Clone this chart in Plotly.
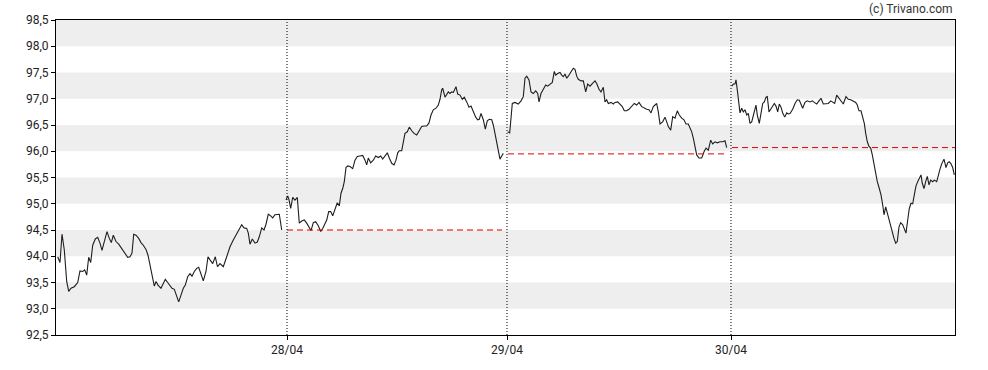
import plotly.graph_objects as go

# time axis (intraday sample time units)
t_day1 = [57.7, 60, 62, 64.3, 66.7, 68.7, 71, 74.3, 77.7, 80, 82.7, 84.7, 86.7, 88.7, 90.7, 92.7, 95.3, 97.7,
          100, 102, 104.3, 107, 109.3, 111.3, 113.3, 116, 118.7, 121, 123.3, 126, 127.7, 130, 132, 133.7, 136,
          138.7, 141, 143.3, 146, 148, 149.7, 151, 152.7, 154.3, 156, 158, 161, 163.3, 165.3, 167.7, 170, 172,
          174.3, 176.7, 178.7, 181, 183.3, 185.3, 187.7, 190, 192, 194.3, 196.7, 198.7, 201, 203.3, 206, 208,
          210, 212.7, 215.3, 217.5, 220, 223.3, 226.7, 230, 233.3, 236.7, 239.3, 241.7, 244, 246.7, 248.3, 250,
          252.3, 255, 257.3, 259.3, 261.7, 264, 266, 268.3, 270.7, 272.7, 275, 277.3, 279.3, 281.7]
v_day1 = [93.99, 93.88, 94.42, 94.12, 93.52, 93.33, 93.39, 93.42, 93.50, 93.72, 93.71, 93.74, 93.64, 93.98,
          93.88, 94.21, 94.33, 94.36, 94.25, 94.11, 94.28, 94.47, 94.34, 94.26, 94.40, 94.28, 94.23, 94.17,
          94.11, 94.02, 93.98, 93.99, 94.06, 94.42, 94.40, 94.34, 94.26, 94.21, 94.13, 94.02, 93.86, 93.67,
          93.52, 93.43, 93.52, 93.45, 93.39, 93.47, 93.56, 93.50, 93.45, 93.39, 93.37, 93.24, 93.13, 93.26,
          93.39, 93.45, 93.61, 93.67, 93.62, 93.71, 93.77, 93.79, 93.66, 93.53, 93.71, 93.99, 93.93, 93.86,
          93.99, 93.80, 93.86, 93.80, 93.99, 94.18, 94.31, 94.44, 94.53, 94.60, 94.54, 94.53, 94.44, 94.23,
          94.33, 94.25, 94.27, 94.37, 94.54, 94.50, 94.61, 94.80, 94.77, 94.73, 94.79, 94.79, 94.80, 94.50]

t_day2 = [286, 287.7, 289, 290.7, 292.7, 295, 297.3, 299.3, 301.7, 304.3, 306.7, 309, 311, 313.3, 315.7, 318.3,
          320.7, 322.7, 325, 326.7, 328.7, 330.7, 332.7, 335, 337.3, 339.3, 341, 342.7, 344.3, 346, 347.7, 350,
          352.7, 355, 357.3, 360, 362.7, 365, 366.7, 368.3, 370.7, 373.3, 375.7, 378.3, 380.7, 382.7, 385,
          387.3, 389.3, 391.7, 394, 396, 397.7, 399.3, 401.7, 403.3, 405, 407.3, 409.3, 411.7, 414, 416.7,
          419.3, 421.7, 424, 426.7, 429, 431, 433.3, 436, 438.3, 440, 441.7, 442.7, 445, 446.7, 448.3, 450,
          451.7, 453.3, 455, 456, 457.7, 460, 462.3, 464.3, 466.7, 469, 471, 473.3, 475.7, 477.7, 479.3, 481,
          483.3, 485.3, 487.3, 489.3, 491.7, 493.3, 495, 496.7, 498.3, 500, 501.7, 503.3]
v_day2 = [95.07, 95.15, 95.08, 94.91, 95.12, 95.07, 95.12, 94.63, 94.67, 94.69, 94.63, 94.55, 94.49, 94.64,
          94.66, 94.58, 94.47, 94.53, 94.64, 94.69, 94.85, 94.85, 94.77, 94.91, 95.02, 94.96, 95.20, 95.29,
          95.42, 95.69, 95.72, 95.71, 95.67, 95.83, 95.90, 95.91, 95.92, 95.83, 95.74, 95.87, 95.78, 95.83,
          95.91, 95.88, 95.91, 95.85, 95.91, 95.97, 95.87, 95.77, 95.74, 95.83, 95.97, 96.01, 96.01, 96.16,
          96.34, 96.37, 96.46, 96.39, 96.34, 96.31, 96.40, 96.47, 96.48, 96.48, 96.54, 96.69, 96.79, 96.82,
          96.88, 96.99, 97.17, 97.20, 97.03, 97.09, 97.13, 97.10, 97.13, 97.12, 97.18, 97.23, 97.09, 97.07,
          96.99, 97.03, 96.94, 96.84, 96.86, 96.75, 96.65, 96.60, 96.61, 96.72, 96.60, 96.42, 96.58, 96.61,
          96.60, 96.50, 96.34, 96.18, 95.99, 95.85, 95.91, 95.96]

t_day3 = [507.7, 509.7, 511, 512.3, 515, 518.3, 521, 523.3, 525, 526.7, 529, 531, 533.3, 535.7, 537.7, 539, 541,
          543.3, 545.7, 547.7, 550, 552.3, 554.3, 555.7, 557.7, 560, 561.7, 563.3, 565, 566.7, 568.3, 570,
          571.7, 573.3, 575, 576.7, 578.3, 581, 583.3, 585.7, 587.7, 590, 592.3, 595, 596.7, 599, 601, 603.3,
          605, 606.7, 608.3, 611, 613.3, 615, 617.7, 620, 622.3, 624.3, 626.7, 629, 631.7, 634.3, 636.7, 639,
          641.7, 644.3, 646.7, 649, 651, 653.3, 655, 656.7, 658.3, 660, 662.7, 665, 666.7, 668.3, 670.7, 672.7,
          675, 677.3, 679.3, 681.7, 684, 686, 688.3, 690, 691.7, 693.3, 695, 696.7, 699, 701.7, 704, 706, 708.3,
          710.7, 712.7, 715, 717.3, 720, 722.7, 725, 726.7]
v_day3 = [96.37, 96.35, 96.63, 96.91, 96.93, 96.90, 96.96, 97.04, 97.39, 97.43, 97.36, 97.13, 97.10, 97.15,
          97.10, 96.94, 97.10, 97.18, 97.26, 97.24, 97.28, 97.31, 97.52, 97.45, 97.48, 97.50, 97.45, 97.42,
          97.47, 97.39, 97.43, 97.48, 97.52, 97.58, 97.56, 97.43, 97.37, 97.34, 97.34, 97.13, 97.28, 97.24,
          97.29, 97.34, 97.29, 97.18, 97.13, 97.22, 96.94, 96.98, 96.91, 96.93, 96.90, 96.93, 96.94, 96.90,
          96.85, 96.77, 96.77, 96.80, 96.85, 96.91, 96.88, 96.93, 96.85, 96.82, 96.80, 96.79, 96.73, 96.85,
          96.88, 96.91, 96.75, 96.52, 96.56, 96.65, 96.56, 96.47, 96.40, 96.66, 96.63, 96.77, 96.69, 96.63,
          96.60, 96.52, 96.52, 96.44, 96.37, 96.25, 96.06, 95.93, 95.87, 95.87, 95.99, 96.06, 96.02, 96.21,
          96.14, 96.18, 96.16, 96.18, 96.18, 96.20, 96.07]

t_day4 = [731.7, 733.3, 735, 736, 737.3, 738.7, 740, 741.7, 743.3, 745, 746.7, 748.3, 750, 751.7, 754, 756,
          757.3, 759.3, 761, 762.7, 764.3, 766, 767.3, 769, 770.7, 772.7, 774.3, 776, 777.7, 779.3, 781, 782.7,
          784.7, 786.7, 788.3, 790, 792.7, 795, 797.3, 799.3, 802.7, 805, 807.3, 810, 812.3, 814.3, 816.7, 819,
          821, 823.3, 826, 828.3, 830.7, 832.7, 834.7, 836.7, 839, 841, 843.3, 846, 848.3, 850.7, 853.3, 855.7,
          857.3, 859, 861, 862.7, 864.3, 865.7, 867.3, 869, 870.7, 872.3, 874, 875.7, 877.3, 879.3, 881, 882.7,
          884, 885.7, 887.3, 889, 890.7, 892.3, 894, 895.7, 897.3, 899, 900.7, 902.7, 904.3, 906, 907.7, 909.3,
          911, 912.7, 914.3, 916, 917.7, 919.3, 921, 922.3, 924, 925.7, 927.3, 929, 930.7, 932.7, 934.3, 936.7,
          938.3, 940, 941.7, 944, 946, 947.7, 949.3, 951, 952.7, 954.3]
v_day4 = [97.24, 97.28, 97.28, 97.36, 97.17, 96.94, 96.73, 96.82, 96.75, 96.79, 96.69, 96.72, 96.53, 96.56,
          96.72, 96.88, 96.69, 96.53, 96.72, 96.91, 96.94, 97.03, 97.04, 96.75, 96.80, 96.85, 96.91, 96.86,
          96.75, 96.90, 96.84, 96.73, 96.65, 96.73, 96.71, 96.72, 96.80, 96.91, 96.98, 96.97, 96.82, 96.93,
          96.96, 96.94, 96.96, 96.93, 96.90, 96.96, 97.01, 96.90, 96.90, 96.91, 96.96, 96.94, 96.91, 97.07,
          97.01, 96.94, 96.90, 97.04, 96.99, 96.98, 96.96, 96.93, 96.88, 96.77, 96.77, 96.65, 96.53, 96.34,
          96.18, 96.09, 96.06, 95.93, 95.74, 95.58, 95.42, 95.29, 95.17, 94.98, 94.79, 94.94, 94.82, 94.69,
          94.56, 94.45, 94.34, 94.25, 94.28, 94.56, 94.64, 94.60, 94.51, 94.44, 94.69, 94.91, 95.01, 95.00,
          95.17, 95.34, 95.42, 95.48, 95.55, 95.39, 95.29, 95.42, 95.52, 95.36, 95.45, 95.42, 95.45, 95.42,
          95.55, 95.66, 95.76, 95.85, 95.69, 95.78, 95.80, 95.76, 95.69, 95.55]

# day boundaries on the time axis and tick labels
day_starts = [287, 507, 731]
day_labels = ["28/04", "29/04", "30/04"]
x_range = [56, 955]

# previous-close reference lines: (start, end, value)
ref_start = [287, 508, 732]
ref_end = [502, 727, 955]
ref_value = [94.50, 95.95, 96.07]

y_min, y_max = 92.5, 98.5
y_ticks = [92.5 + 0.5 * i for i in range(13)]
band_lows = [98.0, 97.0, 96.0, 95.0, 94.0, 93.0]

fig = go.Figure()

for t, v in [(t_day1, v_day1), (t_day2, v_day2), (t_day3, v_day3), (t_day4, v_day4)]:
    fig.add_trace(go.Scatter(x=t, y=v, mode="lines", line=dict(color="#1e1e1e", width=1.1),
                             hoverinfo="skip", showlegend=False))

for s, e, r in zip(ref_start, ref_end, ref_value):
    fig.add_trace(go.Scatter(x=[s, e], y=[r, r], mode="lines",
                             line=dict(color="#e00000", width=1, dash="6px,4px"),
                             hoverinfo="skip", showlegend=False))

shapes = []
for lo in band_lows:
    shapes.append(dict(type="rect", xref="paper", yref="y", x0=0, x1=1, y0=lo, y1=lo + 0.5,
                       fillcolor="#eeeeee", line=dict(width=0), layer="below"))
for d in day_starts:
    shapes.append(dict(type="line", xref="x", yref="paper", x0=d, x1=d, y0=0, y1=1,
                       line=dict(color="black", width=1, dash="1px,2px"), layer="above"))

fig.update_layout(
    width=988, height=370,
    margin=dict(l=56, r=33, t=20, b=35),
    paper_bgcolor="white", plot_bgcolor="white",
    separators=",.",
    font=dict(family="Roboto", size=12, color="#222222"),
    shapes=shapes,
    showlegend=False,
    annotations=[dict(text="(c) Trivano.com", xref="paper", yref="paper", x=1, y=1.035,
                      xanchor="right", yanchor="middle", showarrow=False,
                      font=dict(family="Roboto", size=12, color="#333333"))],
)
fig.update_xaxes(range=x_range, tickvals=day_starts, ticktext=day_labels, showgrid=False, zeroline=False,
                 showline=True, linecolor="black", linewidth=1, mirror=True,
                 ticks="outside", ticklen=4, tickcolor="black")
fig.update_yaxes(range=[y_min, y_max], tickvals=y_ticks, tickformat=".1f", showgrid=False, zeroline=False,
                 showline=True, linecolor="black", linewidth=1, mirror=True,
                 ticks="outside", ticklen=4, tickcolor="black")

fig.write_html("out.html", config={"displayModeBar": False, "staticPlot": True},
               post_script="document.body.style.margin='0';")
